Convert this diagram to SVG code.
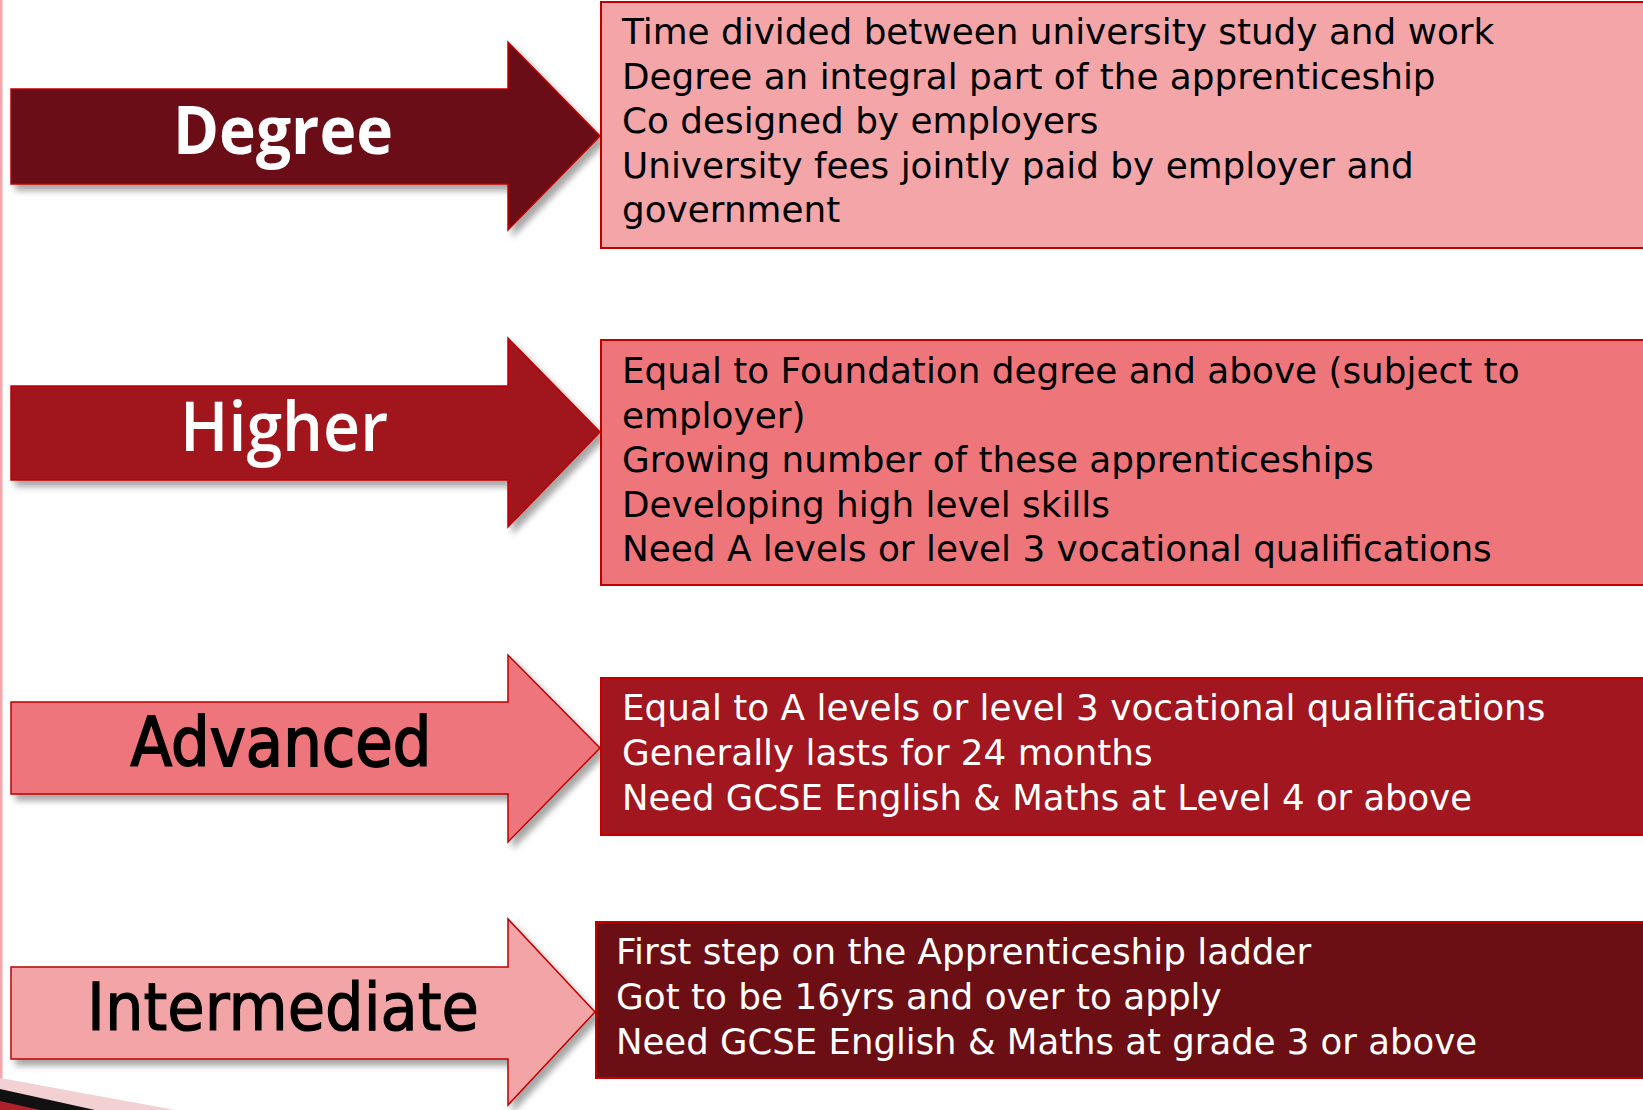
<svg xmlns="http://www.w3.org/2000/svg" width="1643" height="1110" viewBox="0 0 1643 1110">
<defs>
<filter id="sh" x="-10%" y="-10%" width="130%" height="140%">
<feDropShadow dx="5" dy="6" stdDeviation="3" flood-color="#000" flood-opacity="0.35"/>
</filter>
<style>
.arr{stroke:#c00000;stroke-width:1.5;filter:url(#sh)}
.box{stroke:#c00000;stroke-width:2}
.body{font-family:"DejaVu Sans","Liberation Sans",sans-serif;font-size:35.8px}
.lblw{font-family:"Open Sans","Noto Sans",sans-serif;fill:#fff;text-anchor:middle}
.lblb{font-family:"DejaVu Sans","Liberation Sans",sans-serif;fill:#000;stroke:#000;text-anchor:middle}
</style>
</defs>
<rect x="0" y="0" width="1643" height="1110" fill="#fff"/>
<rect x="0" y="0" width="2.5" height="1110" fill="#f4a7ab"/>
<g id="decoration">
<polygon points="0,1078 175,1110 0,1110" fill="#f3d0d2"/>
<polygon points="0,1089 95,1110 0,1110" fill="#111"/>
<polygon points="0,1101 40,1110 0,1110" fill="#b0202a"/>
</g>
<g id="connectors"></g>
<g id="degree">
<polygon class="arr" fill="#6b0f14" points="11,89 508,89 508,42 600,136 508,230 508,184 11,184"/>
<text class="lblw" x="283" y="154" font-size="66" font-weight="700" textLength="220" lengthAdjust="spacingAndGlyphs">Degree</text>
</g>
<g id="degree-info">
<rect class="box" x="601" y="2" width="1060" height="246" fill="#f3a5a8"/>
<text class="body" fill="#000">
<tspan x="622" y="44">Time divided between university study and work</tspan>
<tspan x="622" y="88.5">Degree an integral part of the apprenticeship</tspan>
<tspan x="622" y="133">Co designed by employers</tspan>
<tspan x="622" y="177.5">University fees jointly paid by employer and</tspan>
<tspan x="622" y="222">government</tspan>
</text>
</g>
<g id="higher">
<polygon class="arr" fill="#a0161e" points="11,386 508,386 508,338 600,432 508,527 508,480 11,480"/>
<text class="lblw" x="284" y="451" font-size="68" font-weight="600" textLength="208" lengthAdjust="spacingAndGlyphs">Higher</text>
</g>
<g id="higher-info">
<rect class="box" x="601" y="340" width="1060" height="245" fill="#ee767b"/>
<text class="body" fill="#000">
<tspan x="622" y="383">Equal to Foundation degree and above (subject to</tspan>
<tspan x="622" y="427.5">employer)</tspan>
<tspan x="622" y="472">Growing number of these apprenticeships</tspan>
<tspan x="622" y="516.5">Developing high level skills</tspan>
<tspan x="622" y="561">Need A levels or level 3 vocational qualifications</tspan>
</text>
</g>
<g id="advanced">
<polygon class="arr" fill="#ee757b" points="11,702 508,702 508,655 600,748 508,842 508,794 11,794"/>
<text class="lblb" x="281" y="766" font-size="67" stroke-width="1.8" textLength="301" lengthAdjust="spacingAndGlyphs">Advanced</text>
</g>
<g id="advanced-info">
<rect class="box" x="601" y="678" width="1060" height="157" fill="#a1161f"/>
<text class="body" fill="#fff">
<tspan x="622" y="720">Equal to A levels or level 3 vocational qualifications</tspan>
<tspan x="622" y="765">Generally lasts for 24 months</tspan>
<tspan x="622" y="810" textLength="850" lengthAdjust="spacingAndGlyphs">Need GCSE English &amp; Maths at Level 4 or above</tspan>
</text>
</g>
<g id="intermediate">
<polygon class="arr" fill="#f2a4a7" points="11,967 508,967 508,919 595,1012 508,1105 508,1059 11,1059"/>
<text class="lblb" x="283" y="1030" font-size="66" stroke-width="1.2" textLength="392" lengthAdjust="spacingAndGlyphs">Intermediate</text>
</g>
<g id="intermediate-info">
<rect class="box" x="596" y="922" width="1065" height="156" fill="#6b0f14"/>
<text class="body" fill="#fff">
<tspan x="616" y="964">First step on the Apprenticeship ladder</tspan>
<tspan x="616" y="1009">Got to be 16yrs and over to apply</tspan>
<tspan x="616" y="1054" textLength="861" lengthAdjust="spacingAndGlyphs">Need GCSE English &amp; Maths at grade 3 or above</tspan>
</text>
</g>
</svg>
